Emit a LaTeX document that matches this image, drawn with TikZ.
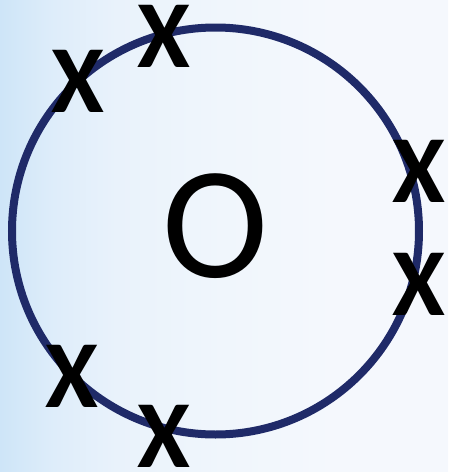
\documentclass[tikz,border=0pt]{standalone}
\usepackage{fontspec}
\setmainfont{Carlito}
\definecolor{ringblue}{RGB}{31,42,104}
\definecolor{bgleft}{RGB}{206,229,248}
\definecolor{bgleft2}{RGB}{222,237,250}
\definecolor{bgmid}{RGB}{233,242,251}
\definecolor{bgmid2}{RGB}{240,246,252}
\definecolor{bgright}{RGB}{245,248,253}
\pgfdeclarehorizontalshading{bgshade}{100bp}{
  color(0bp)=(bgleft); color(25bp)=(bgleft); color(31bp)=(bgleft2); color(38bp)=(bgmid);
  color(50bp)=(bgmid2); color(62.5bp)=(bgright); color(100bp)=(bgright)}
\begin{document}
\begin{tikzpicture}[x=1pt,y=-1pt,
  mark x/.style={inner sep=0pt,font=\fontsize{96}{96}\selectfont\bfseries},
  center o/.style={inner sep=0pt,font=\fontsize{160}{160}\selectfont}]
\shade[shading=bgshade] (0,0) rectangle (448,472);
\useasboundingbox (0,0) rectangle (448,472);
\node[draw=ringblue,line width=8pt,circle,minimum size=407pt,inner sep=0pt] (ring) at (215.5,231) {};
\node[center o] (o) at (215,226) {O};
\node[mark x] (x1) at (164,36) {X};
\node[mark x] (x2) at (78,81) {X};
\node[mark x] (x3) at (419,171) {X};
\node[mark x] (x4) at (419,284) {X};
\node[mark x] (x5) at (72,376) {X};
\node[mark x] (x6) at (164,436) {X};
\end{tikzpicture}
\end{document}
